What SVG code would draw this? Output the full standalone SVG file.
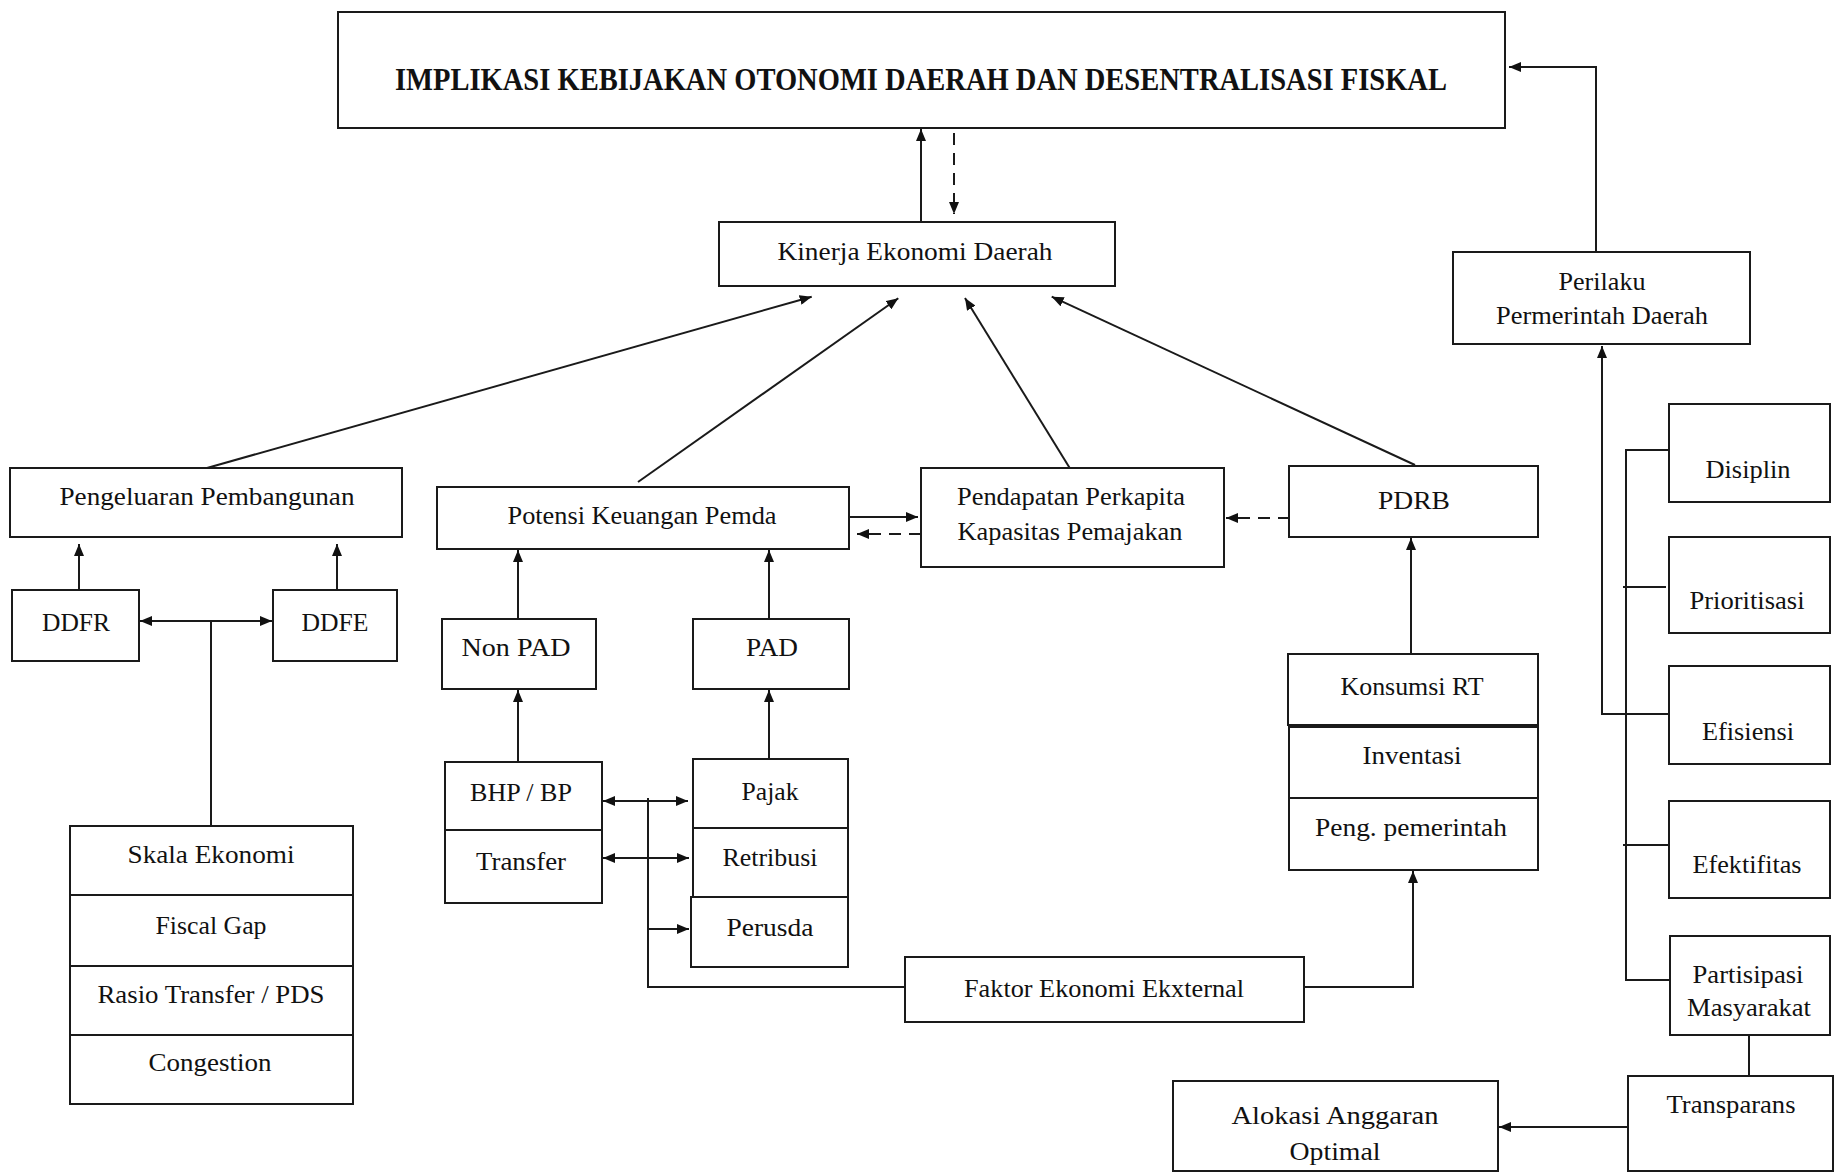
<svg xmlns="http://www.w3.org/2000/svg" width="1839" height="1172" viewBox="0 0 1839 1172">
<style>
rect{fill:#fff;stroke:#1a1a1a;stroke-width:2}
text{font-family:"Liberation Serif","Times New Roman",serif;font-size:26px;fill:#111;text-anchor:middle}
.t{font-weight:bold;font-size:31px}
.c path{fill:none;stroke:#1a1a1a;stroke-width:2}
.c .d{stroke-dasharray:12,8}
</style>
<defs>
<marker id="ah" viewBox="0 0 12 10" refX="12" refY="5" markerWidth="12" markerHeight="10" markerUnits="userSpaceOnUse" orient="auto-start-reverse"><path d="M0,0 L12,5 L0,10 z" fill="#111"/></marker>
</defs>
<rect x="0" y="0" width="1839" height="1172" style="stroke:none"/>
<g class="c" id="connectors">
<path d="M921,222 V129" marker-end="url(#ah)"/>
<path class="d" d="M954,133 V214" marker-end="url(#ah)"/>
<path d="M1596,252 V67 H1509" marker-end="url(#ah)"/>
<path d="M207,468 L811.7,296.7" marker-end="url(#ah)"/>
<path d="M638,482 L898.3,298.3" marker-end="url(#ah)"/>
<path d="M1069.7,468 L965,298" marker-end="url(#ah)"/>
<path d="M1415,465 L1051.7,296.7" marker-end="url(#ah)"/>
<path d="M849,517 H918" marker-end="url(#ah)"/>
<path class="d" d="M921,534 H857" marker-end="url(#ah)"/>
<path class="d" d="M1290,518 H1226" marker-end="url(#ah)"/>
<path d="M79,590 V544" marker-end="url(#ah)"/>
<path d="M337,590 V544" marker-end="url(#ah)"/>
<path d="M140,621 H272" marker-start="url(#ah)" marker-end="url(#ah)"/>
<path d="M211,621 V826"/>
<path d="M518,619 V550" marker-end="url(#ah)"/>
<path d="M769,619 V550" marker-end="url(#ah)"/>
<path d="M518,762 V690" marker-end="url(#ah)"/>
<path d="M769,759 V690" marker-end="url(#ah)"/>
<path d="M603,801 H688" marker-start="url(#ah)" marker-end="url(#ah)"/>
<path d="M603,858 H689" marker-start="url(#ah)" marker-end="url(#ah)"/>
<path d="M648,929 H689" marker-end="url(#ah)"/>
<path d="M648,798 V987 H905"/>
<path d="M1304,987 H1413 V871" marker-end="url(#ah)"/>
<path d="M1411,654 V538" marker-end="url(#ah)"/>
<path d="M1628,1127 H1499" marker-end="url(#ah)"/>
<path d="M1749,1035 V1076"/>
<path d="M1670,714 H1602 V346" marker-end="url(#ah)"/>
<path d="M1670,450 H1626 V980 H1670"/>
<path d="M1623,587 H1666"/>
<path d="M1623,845 H1669"/>
</g>
<g id="n-title"><rect x="338" y="12" width="1167" height="116"/><text class="t" x="921" y="90" textLength="1052" lengthAdjust="spacingAndGlyphs">IMPLIKASI KEBIJAKAN OTONOMI DAERAH DAN DESENTRALISASI FISKAL</text></g>
<g id="n-kinerja"><rect x="719" y="222" width="396" height="64"/><text x="915" y="260" textLength="275" lengthAdjust="spacingAndGlyphs">Kinerja  Ekonomi  Daerah</text></g>
<g id="n-perilaku"><rect x="1453" y="252" width="297" height="92"/><text x="1602" y="290" textLength="87" lengthAdjust="spacingAndGlyphs">Perilaku</text><text x="1602" y="324" textLength="212" lengthAdjust="spacingAndGlyphs">Permerintah Daerah</text></g>
<g id="n-pengeluaran"><rect x="10" y="468" width="392" height="69"/><text x="207" y="505" textLength="295" lengthAdjust="spacingAndGlyphs">Pengeluaran  Pembangunan</text></g>
<g id="n-potensi"><rect x="437" y="487" width="412" height="62"/><text x="642" y="524" textLength="269" lengthAdjust="spacingAndGlyphs">Potensi Keuangan Pemda</text></g>
<g id="n-pendapatan"><rect x="921" y="468" width="303" height="99"/><text x="1071" y="505" textLength="228" lengthAdjust="spacingAndGlyphs">Pendapatan Perkapita</text><text x="1070" y="540" textLength="225" lengthAdjust="spacingAndGlyphs">Kapasitas Pemajakan</text></g>
<g id="n-pdrb"><rect x="1289" y="466" width="249" height="71"/><text x="1414" y="509" textLength="72" lengthAdjust="spacingAndGlyphs">PDRB</text></g>
<g id="n-ddfr"><rect x="12" y="590" width="127" height="71"/><text x="76" y="631" textLength="68" lengthAdjust="spacingAndGlyphs">DDFR</text></g>
<g id="n-ddfe"><rect x="273" y="590" width="124" height="71"/><text x="335" y="631" textLength="67" lengthAdjust="spacingAndGlyphs">DDFE</text></g>
<g id="n-skala">
<rect x="70" y="826" width="283" height="69"/><text x="211" y="863" textLength="167" lengthAdjust="spacingAndGlyphs">Skala  Ekonomi</text>
<rect x="70" y="895" width="283" height="71"/><text x="211" y="934" textLength="111" lengthAdjust="spacingAndGlyphs">Fiscal Gap</text>
<rect x="70" y="966" width="283" height="69"/><text x="211" y="1003" textLength="227" lengthAdjust="spacingAndGlyphs">Rasio  Transfer / PDS</text>
<rect x="70" y="1035" width="283" height="69"/><text x="210" y="1071" textLength="123" lengthAdjust="spacingAndGlyphs">Congestion</text>
</g>
<g id="n-nonpad"><rect x="442" y="619" width="154" height="70"/><text x="516" y="656" textLength="109" lengthAdjust="spacingAndGlyphs">Non  PAD</text></g>
<g id="n-pad"><rect x="693" y="619" width="156" height="70"/><text x="772" y="656" textLength="52" lengthAdjust="spacingAndGlyphs">PAD</text></g>
<g id="n-bhp"><rect x="445" y="762" width="157" height="68"/><text x="521" y="801" textLength="102" lengthAdjust="spacingAndGlyphs">BHP / BP</text></g>
<g id="n-transfer"><rect x="445" y="830" width="157" height="73"/><text x="521" y="870" textLength="90" lengthAdjust="spacingAndGlyphs">Transfer</text></g>
<g id="n-pajak"><rect x="693" y="759" width="155" height="69"/><text x="770" y="800" textLength="57" lengthAdjust="spacingAndGlyphs">Pajak</text></g>
<g id="n-retribusi"><rect x="693" y="828" width="155" height="69"/><text x="770" y="866" textLength="95" lengthAdjust="spacingAndGlyphs">Retribusi</text></g>
<g id="n-perusda"><rect x="691" y="897" width="157" height="70"/><text x="770" y="936" textLength="87" lengthAdjust="spacingAndGlyphs">Perusda</text></g>
<g id="n-faktor"><rect x="905" y="957" width="399" height="65"/><text x="1104" y="997" textLength="280" lengthAdjust="spacingAndGlyphs">Faktor Ekonomi Ekxternal</text></g>
<g id="n-konsumsi"><rect x="1288" y="654" width="250" height="71"/><text x="1412" y="695" textLength="143" lengthAdjust="spacingAndGlyphs">Konsumsi RT</text></g>
<g id="n-inventasi"><rect x="1289" y="727" width="249" height="71"/><text x="1412" y="764" textLength="99" lengthAdjust="spacingAndGlyphs">Inventasi</text></g>
<g id="n-peng"><rect x="1289" y="798" width="249" height="72"/><text x="1411" y="836" textLength="192" lengthAdjust="spacingAndGlyphs">Peng.  pemerintah</text></g>
<g id="n-disiplin"><rect x="1669" y="404" width="161" height="98"/><text x="1748" y="478" textLength="85" lengthAdjust="spacingAndGlyphs">Disiplin</text></g>
<g id="n-prioritisasi"><rect x="1669" y="537" width="161" height="96"/><text x="1747" y="609" textLength="115" lengthAdjust="spacingAndGlyphs">Prioritisasi</text></g>
<g id="n-efisiensi"><rect x="1669" y="666" width="161" height="98"/><text x="1748" y="740" textLength="92" lengthAdjust="spacingAndGlyphs">Efisiensi</text></g>
<g id="n-efektifitas"><rect x="1669" y="801" width="161" height="97"/><text x="1747" y="873" textLength="109" lengthAdjust="spacingAndGlyphs">Efektifitas</text></g>
<g id="n-partisipasi"><rect x="1670" y="936" width="160" height="99"/><text x="1748" y="983" textLength="111" lengthAdjust="spacingAndGlyphs">Partisipasi</text><text x="1749" y="1016" textLength="124" lengthAdjust="spacingAndGlyphs">Masyarakat</text></g>
<g id="n-transparans"><rect x="1628" y="1076" width="205" height="95"/><text x="1731" y="1113" textLength="129" lengthAdjust="spacingAndGlyphs">Transparans</text></g>
<g id="n-alokasi"><rect x="1173" y="1081" width="325" height="90"/><text x="1335" y="1124" textLength="207" lengthAdjust="spacingAndGlyphs">Alokasi Anggaran</text><text x="1335" y="1160" textLength="91" lengthAdjust="spacingAndGlyphs">Optimal</text></g>
</svg>
